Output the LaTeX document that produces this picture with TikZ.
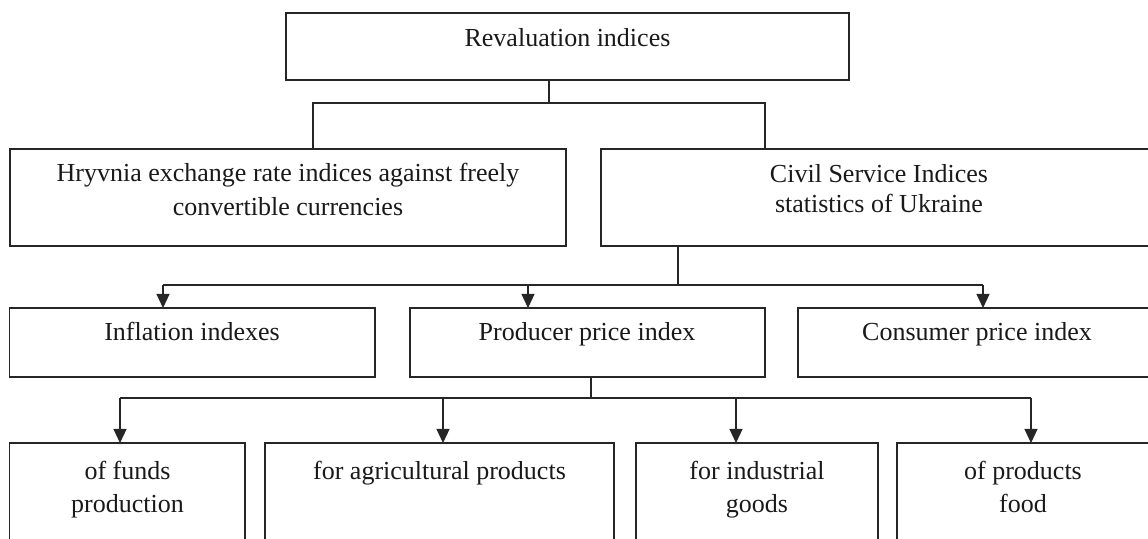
\documentclass[tikz,border=0pt]{standalone}
\usepackage{fontspec}
\setmainfont{Liberation Serif}
\usetikzlibrary{arrows.meta}
\begin{document}
\begin{tikzpicture}[x=0.5pt,y=-0.5pt,
  box/.style={draw=black!85, line width=0.7pt, inner sep=0pt, outer sep=0pt},
  txt/.style={font=\fontsize{13}{16.5}\selectfont, align=center, anchor=base, inner sep=0pt, text=black!90},
  conn/.style={draw=black!85, line width=0.6pt},
  arr/.style={conn, -{Triangle[width=6.5pt,length=7pt]}}]
\useasboundingbox (0,0) rectangle (1148,539);
\clip (0,0) rectangle (1148,539);
% boxes
\node[box, minimum width=281.5pt, minimum height=33.5pt] (top) at (567.5,46.5) {};
\node[box, minimum width=278pt, minimum height=48.5pt] (hry) at (288,197.5) {};
\node[box, minimum width=278pt, minimum height=48.5pt] (civ) at (879,197.5) {};
\node[box, minimum width=182.75pt, minimum height=34.5pt] (inf) at (192.25,342.5) {};
\node[box, minimum width=177.5pt, minimum height=34.5pt] (prod) at (587.5,342.5) {};
\node[box, minimum width=179pt, minimum height=34.5pt] (cons) at (977,342.5) {};
\node[box, minimum width=117.7pt, minimum height=68.5pt] (b1) at (127.3,511.5) {};
\node[box, minimum width=174.5pt, minimum height=68.5pt] (b2) at (439.5,511.5) {};
\node[box, minimum width=121pt, minimum height=68.5pt] (b3) at (757,511.5) {};
\node[box, minimum width=126.5pt, minimum height=68.5pt] (b4) at (1023.5,511.5) {};
% texts (anchor base = baseline of the last line)
\node[txt] (ttop) at (567.5,47) {Revaluation indices};
\node[txt, font=\fontsize{13}{17}\selectfont] (thry) at (288,216) {Hryvnia exchange rate indices against freely\\convertible currencies};
\node[txt, font=\fontsize{13}{15}\selectfont] (tciv) at (879,213) {Civil Service Indices\\statistics of Ukraine};
\node[txt] (tinf) at (192,341) {Inflation indexes};
\node[txt] (tprod) at (587,341) {Producer price index};
\node[txt] (tcons) at (977,341) {Consumer price index};
\node[txt] (tb1) at (127.5,513) {of funds\\production};
\node[txt] (tb2) at (439.5,480) {for agricultural products};
\node[txt] (tb3) at (757,513) {for industrial\\goods};
\node[txt] (tb4) at (1023,513) {of products\\food};
% level 1 connectors
\coordinate (j1) at (549,103);
\coordinate (l1) at (313,103);
\coordinate (r1) at (765,103);
\draw[conn] (j1 |- top.south) -- (j1);
\draw[conn] (l1 |- hry.north) -- (l1) -- (r1) -- (r1 |- civ.north);
% level 2 connectors
\coordinate (j2) at (678,285);
\coordinate (a1) at (163,285);
\coordinate (a2) at (528,285);
\coordinate (a3) at (983,285);
\draw[conn] (j2 |- civ.south) -- (j2);
\draw[conn] (a1) -- (a3);
\draw[arr] (a1) -- (a1 |- inf.north);
\draw[arr] (a2) -- (a2 |- prod.north);
\draw[arr] (a3) -- (a3 |- cons.north);
% level 3 connectors
\coordinate (j3) at (591,398);
\coordinate (c1) at (120,398);
\coordinate (c2) at (443,398);
\coordinate (c3) at (736,398);
\coordinate (c4) at (1031,398);
\draw[conn] (j3 |- prod.south) -- (j3);
\draw[conn] (c1) -- (c4);
\draw[arr] (c1) -- (c1 |- b1.north);
\draw[arr] (c2) -- (c2 |- b2.north);
\draw[arr] (c3) -- (c3 |- b3.north);
\draw[arr] (c4) -- (c4 |- b4.north);
\end{tikzpicture}
\end{document}
